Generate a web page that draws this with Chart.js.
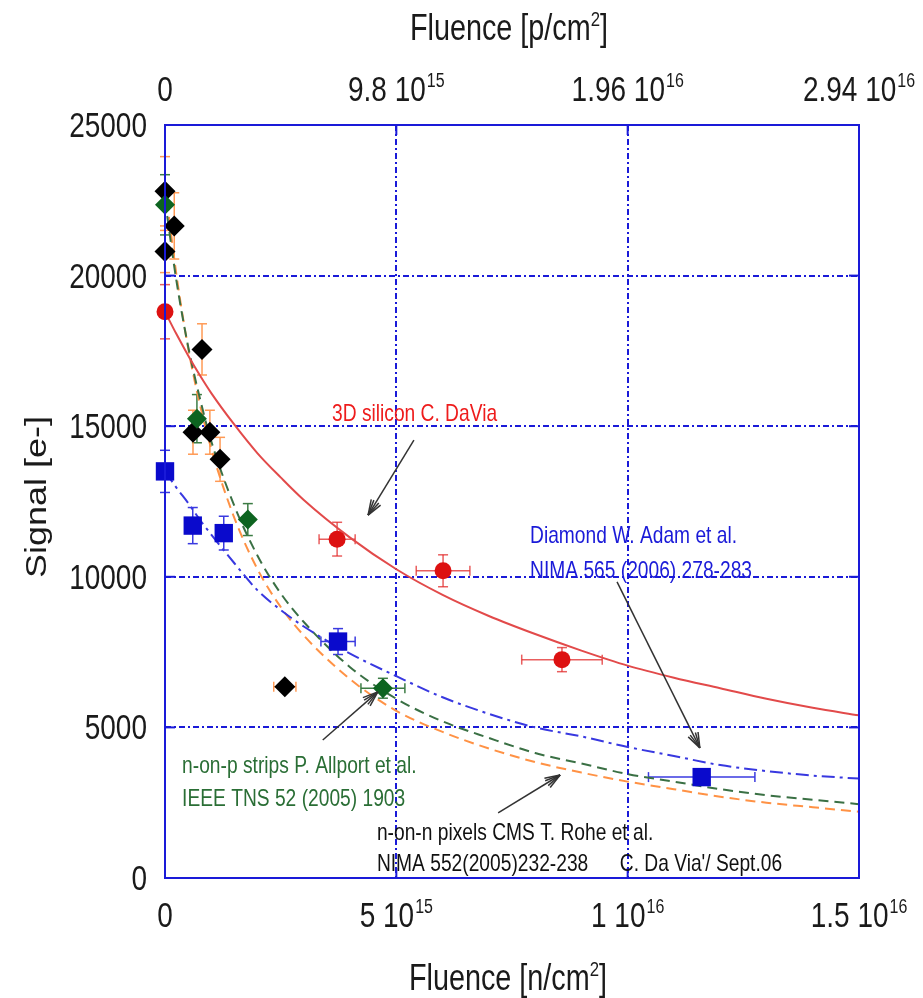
<!DOCTYPE html>
<html lang="en">
<head>
<meta charset="UTF-8">
<title>Signal vs Fluence</title>
<script src="https://cdn.jsdelivr.net/npm/chart.js"></script>
<style>
  body { margin: 0; background: #fff; }
  #wrap { position: relative; width: 923px; height: 998px; }
</style>
</head>
<body>
<div id="wrap"><canvas id="chartSignal"></canvas></div>
<script>
// ticks
const xTicks = [0, 5e15, 1e16, 1.5e16];
const xTickBase = ['0', '5 10', '1 10', '1.5 10'];
const xTickExp = ['', '15', '16', '16'];
const x2Ticks = [0, 9.8e15, 1.96e16, 2.94e16];
const x2TickBase = ['0', '9.8 10', '1.96 10', '2.94 10'];
const x2TickExp = ['', '15', '16', '16'];
const yTicks = [0, 5000, 10000, 15000, 20000, 25000];

// 3D silicon C. DaVia (red circles)
const siX = [0, 3.72e15, 6.01e15, 8.58e15];
const siY = [18800, 11250, 10200, 7250];
const siXErr = [0, 3.9e14, 5.8e14, 8.7e14];
const siYErr = [900, 560, 530, 400];

// Diamond W. Adam et al. (blue squares)
const diaX = [0, 6.0e14, 1.27e15, 3.74e15, 1.16e16];
const diaY = [13500, 11700, 11450, 7850, 3350];
const diaXErr = [0, 0, 0, 3.7e14, 1.15e15];
const diaYErr = [700, 600, 560, 430, 150];

// n-on-p strips P. Allport et al. (green diamonds)
const npX = [0, 6.9e14, 1.79e15, 4.71e15];
const npY = [22350, 15250, 11900, 6300];
const npXErr = [0, 0, 0, 4.75e14];
const npYErr = [1000, 800, 530, 330];

// n-on-n pixels CMS T. Rohe et al. (black diamonds, orange error bars)
const nnX = [0, 0, 2.0e14, 8.0e14, 6.05e14, 9.7e14, 1.19e15, 2.59e15];
const nnY = [22800, 20800, 21650, 17550, 14800, 14800, 13900, 6350];
const nnXErr = [0, 0, 0, 0, 0, 0, 0, 2.4e14];
const nnYErr = [1150, 700, 1100, 850, 730, 730, 730, 0];

// fit curves
const fitX = [0, 2.5e14, 5e14, 7.5e14, 1e15, 1.5e15, 2e15, 2.5e15, 3e15, 4e15, 5e15, 6e15, 7e15, 8e15, 9e15, 1e16, 1.1e16, 1.2e16, 1.3e16, 1.4e16, 1.5e16];
const siFit = [18800, 18050, 17350, 16700, 16100, 15050, 14100, 13300, 12550, 11300, 10250, 9400, 8700, 8100, 7550, 7050, 6650, 6300, 5950, 5650, 5400];
const diaFit = [13500, 12950, 12450, 11900, 11400, 10450, 9550, 8900, 8350, 7450, 6700, 6000, 5450, 5000, 4700, 4350, 4050, 3750, 3550, 3400, 3300];
const npFit = [22500, 19800, 17650, 15950, 14500, 12350, 10700, 9450, 8500, 7000, 5950, 5200, 4650, 4150, 3800, 3450, 3200, 2950, 2750, 2600, 2450];
const nnFit = [23000, 20000, 17600, 15750, 14250, 11950, 10250, 9000, 8050, 6600, 5550, 4850, 4300, 3850, 3500, 3200, 2950, 2700, 2500, 2350, 2200];

// labels and arrows (placed in data units)
const notes = [
    { t: '3D silicon C. DaVia', x: 3.61e15, y: 15440, c: '#ee1c1c' },
    { t: 'Diamond W. Adam et al.', x: 7.89e15, y: 11390, c: '#1a1ad8' },
    { t: 'NIMA 565 (2006) 278-283', x: 7.89e15, y: 10230, c: '#1a1ad8' },
    { t: 'n-on-p strips P. Allport et al.', x: 3.7e14, y: 3750, c: '#2a6e35' },
    { t: 'IEEE TNS 52 (2005) 1903', x: 3.7e14, y: 2660, c: '#2a6e35' },
    { t: 'n-on-n pixels CMS T. Rohe et al.', x: 4.58e15, y: 1530, c: '#111' },
    { t: 'NIMA 552(2005)232-238', x: 4.58e15, y: 500, c: '#111' },
    { t: "C. Da Via'/ Sept.06", x: 9.83e15, y: 500, c: '#111' }
];
const arrows = [
    [5.38e15, 14540, 4.39e15, 12050],
    [9.77e15, 9830, 1.156e16, 4320],
    [3.41e15, 4580, 4.6e15, 6180],
    [7.2e15, 2160, 8.54e15, 3420]
];

const FONT = '"Liberation Sans", Arial, sans-serif';
const SQ = 0.8; // the original lettering is narrow
const BLUE = '#1a1ad8';

function txt(ctx, s, x, y, size, color, align) {
    ctx.save();
    ctx.font = size + 'px ' + FONT;
    const w = ctx.measureText(s).width * SQ;
    let x0 = x;
    if (align === 'center') x0 = x - w / 2;
    else if (align === 'right') x0 = x - w;
    ctx.translate(x0, y);
    ctx.scale(SQ, 1);
    ctx.fillStyle = color;
    ctx.textAlign = 'left';
    ctx.textBaseline = 'alphabetic';
    ctx.fillText(s, 0, 0);
    ctx.restore();
    return w;
}

function textW(ctx, s, size) {
    ctx.save();
    ctx.font = size + 'px ' + FONT;
    const w = ctx.measureText(s).width * SQ;
    ctx.restore();
    return w;
}

function expLabel(ctx, base, exp, cx, y) {
    const wb = textW(ctx, base, 35);
    const we = exp ? textW(ctx, exp, 20) + 1 : 0;
    const x0 = cx - (wb + we) / 2;
    txt(ctx, base, x0, y, 35, '#1a1a1a', 'left');
    if (exp) txt(ctx, exp, x0 + wb + 1, y - 14, 20, '#1a1a1a', 'left');
}

function title(ctx, a, sup, b, cx, y) {
    const wa = textW(ctx, a, 36), ws = textW(ctx, sup, 21), wbb = textW(ctx, b, 36);
    const x0 = cx - (wa + ws + wbb) / 2;
    txt(ctx, a, x0, y, 36, '#1a1a1a', 'left');
    txt(ctx, sup, x0 + wa, y - 14, 21, '#1a1a1a', 'left');
    txt(ctx, b, x0 + wa + ws, y, 36, '#1a1a1a', 'left');
}

function line(ctx, x1, y1, x2, y2) {
    ctx.beginPath();
    ctx.moveTo(x1, y1);
    ctx.lineTo(x2, y2);
    ctx.stroke();
}

function errBars(ctx, sx, sy, xs, ys, xe, ye, color) {
    ctx.save();
    ctx.strokeStyle = color;
    ctx.lineWidth = 1.5;
    xs.forEach((v, i) => {
        const px = sx.getPixelForValue(v), py = sy.getPixelForValue(ys[i]);
        if (ye[i]) {
            const a = sy.getPixelForValue(ys[i] + ye[i]), b = sy.getPixelForValue(ys[i] - ye[i]);
            line(ctx, px, a, px, b);
            line(ctx, px - 5, a, px + 5, a);
            line(ctx, px - 5, b, px + 5, b);
        }
        if (xe[i]) {
            const a = sx.getPixelForValue(v - xe[i]), b = sx.getPixelForValue(v + xe[i]);
            line(ctx, a, py, b, py);
            line(ctx, a, py - 5, a, py + 5);
            line(ctx, b, py - 5, b, py + 5);
        }
    });
    ctx.restore();
}

const decor = {
    id: 'decor',
    beforeDatasetsDraw(chart) {
        const ctx = chart.ctx, sx = chart.scales.x, sy = chart.scales.y;
        errBars(ctx, sx, sy, siX, siY, siXErr, siYErr, 'rgba(225,40,40,0.75)');
        errBars(ctx, sx, sy, diaX, diaY, diaXErr, diaYErr, '#3a3ae0');
        errBars(ctx, sx, sy, npX, npY, npXErr, npYErr, '#3c7c44');
        errBars(ctx, sx, sy, nnX, nnY, nnXErr, nnYErr, '#ff9a55');
    },
    afterDraw(chart) {
        const ctx = chart.ctx, sx = chart.scales.x, sx2 = chart.scales.x2, sy = chart.scales.y;
        const a = chart.chartArea;
        ctx.save();
        // frame and inward ticks
        ctx.strokeStyle = BLUE;
        ctx.lineWidth = 2;
        ctx.strokeRect(a.left, a.top, a.right - a.left, a.bottom - a.top);
        yTicks.forEach(v => {
            const py = sy.getPixelForValue(v);
            line(ctx, a.left, py, a.left + 10, py);
            line(ctx, a.right - 10, py, a.right, py);
        });
        xTicks.forEach(v => {
            const px = sx.getPixelForValue(v);
            line(ctx, px, a.bottom, px, a.bottom - 10);
        });
        x2Ticks.forEach(v => {
            const px = sx2.getPixelForValue(v);
            line(ctx, px, a.top, px, a.top + 10);
        });
        // tick labels
        yTicks.forEach(v => txt(ctx, String(v), a.left - 18, sy.getPixelForValue(v) + 12, 35, '#1a1a1a', 'right'));
        xTicks.forEach((v, i) => expLabel(ctx, xTickBase[i], xTickExp[i], sx.getPixelForValue(v), a.bottom + 49));
        x2Ticks.forEach((v, i) => expLabel(ctx, x2TickBase[i], x2TickExp[i], sx2.getPixelForValue(v), a.top - 24));
        // axis titles
        title(ctx, 'Fluence [n/cm', '2', ']', 508, 990);
        title(ctx, 'Fluence [p/cm', '2', ']', 509, 40);
        ctx.save();
        ctx.translate(38, 497);
        ctx.scale(SQ, 1);
        ctx.rotate(-Math.PI / 2);
        ctx.font = '36px ' + FONT;
        ctx.fillStyle = '#1a1a1a';
        ctx.textAlign = 'center';
        ctx.textBaseline = 'middle';
        ctx.fillText('Signal [e-]', 0, 0);
        ctx.restore();
        // notes
        notes.forEach(n => txt(ctx, n.t, sx.getPixelForValue(n.x), sy.getPixelForValue(n.y) + 8, 24, n.c, 'left'));
        // arrows with open heads
        ctx.strokeStyle = '#333';
        ctx.lineWidth = 1.5;
        arrows.forEach(r => {
            const x1 = sx.getPixelForValue(r[0]), y1 = sy.getPixelForValue(r[1]);
            const x2 = sx.getPixelForValue(r[2]), y2 = sy.getPixelForValue(r[3]);
            line(ctx, x1, y1, x2, y2);
            const ang = Math.atan2(y1 - y2, x1 - x2);
            [-0.35, -0.18, 0.18, 0.35].forEach(d => {
                line(ctx, x2, y2, x2 + 16 * Math.cos(ang + d), y2 + 16 * Math.sin(ang + d));
            });
        });
        ctx.restore();
    }
};

function pts(xs, ys) {
    return xs.map((x, i) => ({ x: x, y: ys[i] }));
}

function fitLine(label, ys, color, dash) {
    return {
        type: 'line', label: label, data: pts(fitX, ys),
        borderColor: color, borderWidth: 2, borderDash: dash,
        pointRadius: 0, fill: false, cubicInterpolationMode: 'monotone'
    };
}

const noTicks = { display: false };
const ctxSignal = document.getElementById('chartSignal').getContext('2d');
new Chart(ctxSignal, {
    type: 'scatter',
    data: {
        datasets: [
            { label: '3D silicon', data: pts(siX, siY), pointStyle: 'circle', pointRadius: 8.5,
              backgroundColor: '#dd1111', borderColor: '#dd1111', borderWidth: 0, clip: false },
            { label: 'Diamond', data: pts(diaX, diaY), pointStyle: 'rect', pointRadius: 13,
              backgroundColor: '#0a0acc', borderColor: '#0a0acc', borderWidth: 0, clip: false },
            { label: 'n-on-p', data: pts(npX, npY), pointStyle: 'rectRot', pointRadius: 10,
              backgroundColor: '#0d6420', borderColor: '#0d6420', borderWidth: 0, clip: false },
            { label: 'n-on-n', data: pts(nnX, nnY), pointStyle: 'rectRot', pointRadius: 10.5,
              backgroundColor: '#000', borderColor: '#000', borderWidth: 0, clip: false },
            fitLine('3D silicon fit', siFit, '#e24a4a', []),
            fitLine('Diamond fit', diaFit, '#3838e0', [13, 5, 3, 5]),
            fitLine('n-on-p fit', npFit, '#3a7044', [10, 6]),
            fitLine('n-on-n fit', nnFit, '#ff9245', [10, 6])
        ]
    },
    options: {
        responsive: true,
        maintainAspectRatio: false,
        animation: false,
        layout: { padding: { left: 165, top: 125, right: 64, bottom: 120 } },
        plugins: { legend: { display: false }, tooltip: { enabled: false } },
        scales: {
            x: {
                type: 'linear', min: 0, max: 1.5e16,
                afterBuildTicks: s => { s.ticks = xTicks.map(v => ({ value: v })); },
                afterFit: s => { s.height = 0; },
                ticks: noTicks,
                grid: { color: BLUE, lineWidth: 2, drawTicks: false },
                border: { display: false, dash: [6, 3, 2, 3] }
            },
            x2: {
                type: 'linear', position: 'top', min: 0, max: 2.94e16,
                afterFit: s => { s.height = 0; },
                ticks: noTicks,
                grid: { display: false },
                border: { display: false }
            },
            y: {
                min: 0, max: 25000,
                afterBuildTicks: s => { s.ticks = yTicks.map(v => ({ value: v })); },
                afterFit: s => { s.width = 0; },
                ticks: noTicks,
                grid: { color: BLUE, lineWidth: 2, drawTicks: false },
                border: { display: false, dash: [6, 3, 2, 3] }
            }
        }
    },
    plugins: [decor]
});
</script>
</body>
</html>
